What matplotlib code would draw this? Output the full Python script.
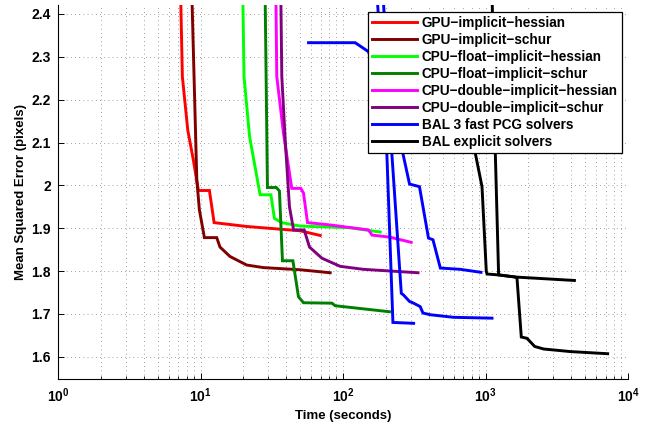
import matplotlib
matplotlib.use("Agg")
import matplotlib.pyplot as plt
from matplotlib.ticker import LogLocator, MultipleLocator, NullFormatter

plt.rcParams['font.family'] = ['Liberation Sans', 'DejaVu Sans']
plt.rcParams['font.weight'] = 'bold'
plt.rcParams['mathtext.fontset'] = 'custom'
plt.rcParams['mathtext.rm'] = 'Liberation Sans:bold'
plt.rcParams['mathtext.it'] = 'Liberation Sans:bold'
plt.rcParams['mathtext.bf'] = 'Liberation Sans:bold'

# ---- data (time in seconds, mean squared error in pixels) ----
gpu_hess_t = [7.25, 7.46, 8.14, 8.91, 9.67, 11.55, 12.46, 21.1, 50, 69.2]
gpu_hess_y = [2.45, 2.254, 2.129, 2.059, 1.988, 1.988, 1.913, 1.904, 1.894, 1.883]

gpu_schur_t = [8.69, 9.42, 9.82, 10.65, 13.0, 13.7, 16.1, 21.1, 27.7, 50, 81.3]
gpu_schur_y = [2.45, 2.013, 1.943, 1.878, 1.878, 1.856, 1.834, 1.814, 1.808, 1.803, 1.796]

cpuf_hess_t = [19.8, 20.2, 22.1, 26.2, 31.2, 33.0, 37.2, 50, 112, 182.5]
cpuf_hess_y = [2.45, 2.254, 2.114, 1.978, 1.978, 1.923, 1.913, 1.905, 1.901, 1.891]

cpuf_schur_t = [28.4, 29.5, 34.0, 35.8, 37.6, 44.5, 48.7, 52.8, 83.6, 88.2, 212]
cpuf_schur_y = [2.45, 1.995, 1.995, 1.987, 1.824, 1.824, 1.740, 1.726, 1.725, 1.719, 1.705]

cpud_hess_t = [33.8, 34.3, 38.2, 43.7, 50.6, 52.8, 56.4, 79.1, 151, 159.6, 214, 301]
cpud_hess_y = [2.45, 2.254, 2.122, 1.993, 1.993, 1.982, 1.913, 1.908, 1.896, 1.884, 1.879, 1.867]

cpud_schur_t = [36.6, 37.2, 39.3, 42.1, 45.0, 53.4, 58.2, 71.1, 95.5, 139, 336]
cpud_schur_y = [2.45, 2.254, 2.106, 1.950, 1.896, 1.896, 1.856, 1.830, 1.811, 1.804, 1.796]

bal_pcg1_t = [173, 203, 224, 313]
bal_pcg1_y = [2.45, 2.076, 1.680, 1.678]
bal_pcg2_t = [190.6, 220, 256.5, 266, 293, 313, 348, 364, 410, 597, 1111]
bal_pcg2_y = [2.45, 2.076, 1.748, 1.744, 1.729, 1.725, 1.717, 1.702, 1.698, 1.692, 1.690]
bal_pcg3_t = [57.3, 121.8, 151, 263, 293, 344, 398, 428, 482, 665, 930]
bal_pcg3_y = [2.333, 2.333, 2.312, 2.075, 2.003, 1.997, 1.877, 1.873, 1.807, 1.804, 1.797]

bal_exp1_t = [1111, 1172, 1236, 1620, 4207]
bal_exp1_y = [2.45, 2.075, 1.791, 1.786, 1.778]
bal_exp2_t = [721, 848, 945, 1013, 1025, 1236, 1620, 1664, 1783, 1954, 2214, 2560, 3946, 7200]
bal_exp2_y = [2.29, 2.075, 1.997, 1.799, 1.793, 1.791, 1.786, 1.783, 1.646, 1.643, 1.624, 1.618, 1.612, 1.607]

labels = ['GPU\u2212implicit\u2212hessian', 'GPU\u2212implicit\u2212schur',
          'CPU\u2212float\u2212implicit\u2212hessian', 'CPU\u2212float\u2212implicit\u2212schur',
          'CPU\u2212double\u2212implicit\u2212hessian', 'CPU\u2212double\u2212implicit\u2212schur',
          'BAL 3 fast PCG solvers', 'BAL explicit solvers']
colors = ['#ff0000', '#800000', '#00ff00', '#008000', '#ff00ff', '#800080', '#0000ff', '#000000']

fig = plt.figure(figsize=(6.47, 4.24), dpi=100)
ax = fig.add_axes([58/647, 1-379/424, 570/647, 374/424])

lw = 2.1
series = [
    [(gpu_hess_t, gpu_hess_y)],
    [(gpu_schur_t, gpu_schur_y)],
    [(cpuf_hess_t, cpuf_hess_y)],
    [(cpuf_schur_t, cpuf_schur_y)],
    [(cpud_hess_t, cpud_hess_y)],
    [(cpud_schur_t, cpud_schur_y)],
    [(bal_pcg1_t, bal_pcg1_y), (bal_pcg2_t, bal_pcg2_y), (bal_pcg3_t, bal_pcg3_y)],
    [(bal_exp1_t, bal_exp1_y), (bal_exp2_t, bal_exp2_y)],
]
handles = []
for lab, col, curves in zip(labels, colors, series):
    for i, (t, y) in enumerate(curves):
        h, = ax.plot(t, y, color=col, lw=lw, label=lab if i == 0 else None,
                     solid_joinstyle='miter', zorder=3)
        if i == 0:
            handles.append(h)

ax.set_xscale('log')
ax.set_xlim(1, 1e4)
ax.set_ylim(1.548, 2.421)
ax.xaxis.set_major_locator(LogLocator(base=10, numticks=10))
ax.xaxis.set_minor_locator(LogLocator(base=10, subs=range(2, 10), numticks=100))
ax.xaxis.set_minor_formatter(NullFormatter())
ax.yaxis.set_major_locator(MultipleLocator(0.1))
ax.yaxis.set_major_formatter(plt.FuncFormatter(lambda v, p: ('%g' % round(v, 2))))

gkw = dict(color='0.3', linestyle=(0, (1, 5)), linewidth=0.5)
ax.grid(True, which='major', axis='both', **gkw)
ax.grid(True, which='minor', axis='x', **gkw)
ax.set_axisbelow(True)

for s in ['top', 'right']:
    ax.spines[s].set_visible(False)
for s in ['left', 'bottom']:
    ax.spines[s].set_linewidth(0.8)
ax.tick_params(which='major', direction='in', length=4, width=0.7, labelsize=10, pad=5)
ax.tick_params(which='minor', direction='in', length=2, width=0.6)

ax.set_xlabel('Time (seconds)', fontsize=9.5, fontweight='bold', labelpad=4)
ax.set_ylabel('Mean Squared Error (pixels)', fontsize=9.5, fontweight='bold', labelpad=3)

leg = ax.legend(handles=handles, loc='upper right',
                bbox_to_anchor=((622-58)/570, (379-12)/374),
                fontsize=9.8, frameon=True, fancybox=False, shadow=False,
                handlelength=3.3, handletextpad=0.35, labelspacing=0.22,
                borderpad=0.3, borderaxespad=0.0)
leg.get_frame().set_edgecolor('black')
leg.get_frame().set_linewidth(0.9)
leg.get_frame().set_alpha(1.0)
leg.set_zorder(10)

fig.savefig('out.png', dpi=100)
